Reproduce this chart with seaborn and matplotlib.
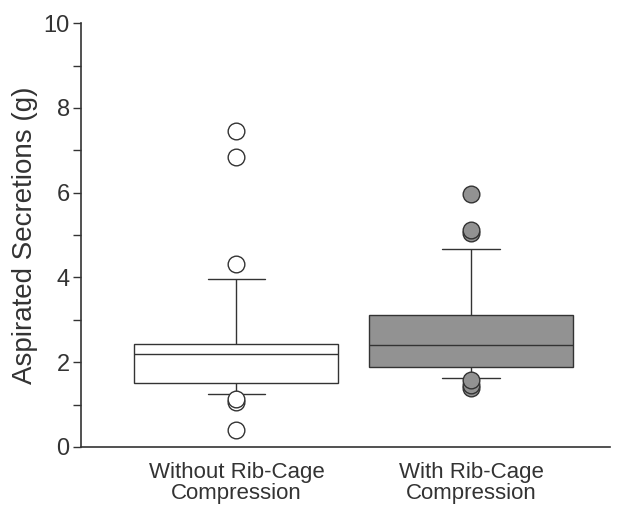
import pandas as pd
import matplotlib
matplotlib.use('Agg')
import matplotlib.pyplot as plt
import seaborn as sns

# Group labels
groups = ['Without Rib-Cage\nCompression', 'With Rib-Cage\nCompression']

without_rcc = [0.40, 1.05, 1.12, 1.25, 1.32, 1.40, 1.46, 1.51, 1.51, 1.62,
               1.75, 1.88, 1.98, 2.08, 2.19, 2.19, 2.25, 2.30, 2.34, 2.38,
               2.41, 2.43, 2.43, 2.70, 3.05, 3.50, 3.96, 4.32, 6.84, 7.45]
with_rcc = [1.39, 1.47, 1.58, 1.62, 1.70, 1.78, 1.84, 1.89, 1.89, 1.98,
            2.05, 2.12, 2.20, 2.30, 2.41, 2.41, 2.55, 2.68, 2.80, 2.92,
            3.02, 3.11, 3.11, 3.40, 3.80, 4.25, 4.67, 5.05, 5.13, 5.97]

df = pd.DataFrame({
    'group': [groups[0]] * len(without_rcc) + [groups[1]] * len(with_rcc),
    'value': without_rcc + with_rcc,
})

sns.set_style('ticks')
plt.rcParams['font.family'] = ['Liberation Sans', 'DejaVu Sans']

ink = '#333333'
fills = ['#ffffff', '#929292']

fig = plt.figure(figsize=(6.22, 5.05), dpi=100)
ax = fig.add_axes([0.130, 0.115, 0.851, 0.839])

for g, fc in zip(groups, fills):
    sns.boxplot(data=df[df['group'] == g], x='group', y='value', order=groups,
                color=fc, width=0.87, whis=(10, 90), linewidth=1.0,
                linecolor=ink, capwidths=0.245, ax=ax,
                boxprops=dict(facecolor=fc, edgecolor=ink),
                flierprops=dict(marker='o', markersize=12, markerfacecolor=fc,
                                markeredgecolor=ink, markeredgewidth=1.0))

ax.set_xlim(-0.663, 1.593)
ax.set_ylim(0, 10)
ax.set_yticks([0, 2, 4, 6, 8, 10])
ax.set_yticks([1, 3, 5, 7, 9], minor=True)
ax.set_xlabel('')
ax.set_ylabel('Aspirated Secretions (g)', fontsize=20, color=ink, labelpad=4)
ax.tick_params(axis='y', which='both', length=6, width=1.0, color=ink,
               labelsize=17, labelcolor=ink, pad=2)
ax.tick_params(axis='x', length=0, labelsize=16, labelcolor=ink, pad=11)
for lbl in ax.get_xticklabels():
    lbl.set_linespacing(1.0)
for s in ['left', 'bottom']:
    ax.spines[s].set_color(ink)
    ax.spines[s].set_linewidth(1.2)
sns.despine(ax=ax)

fig.savefig('out.png', dpi=100)
